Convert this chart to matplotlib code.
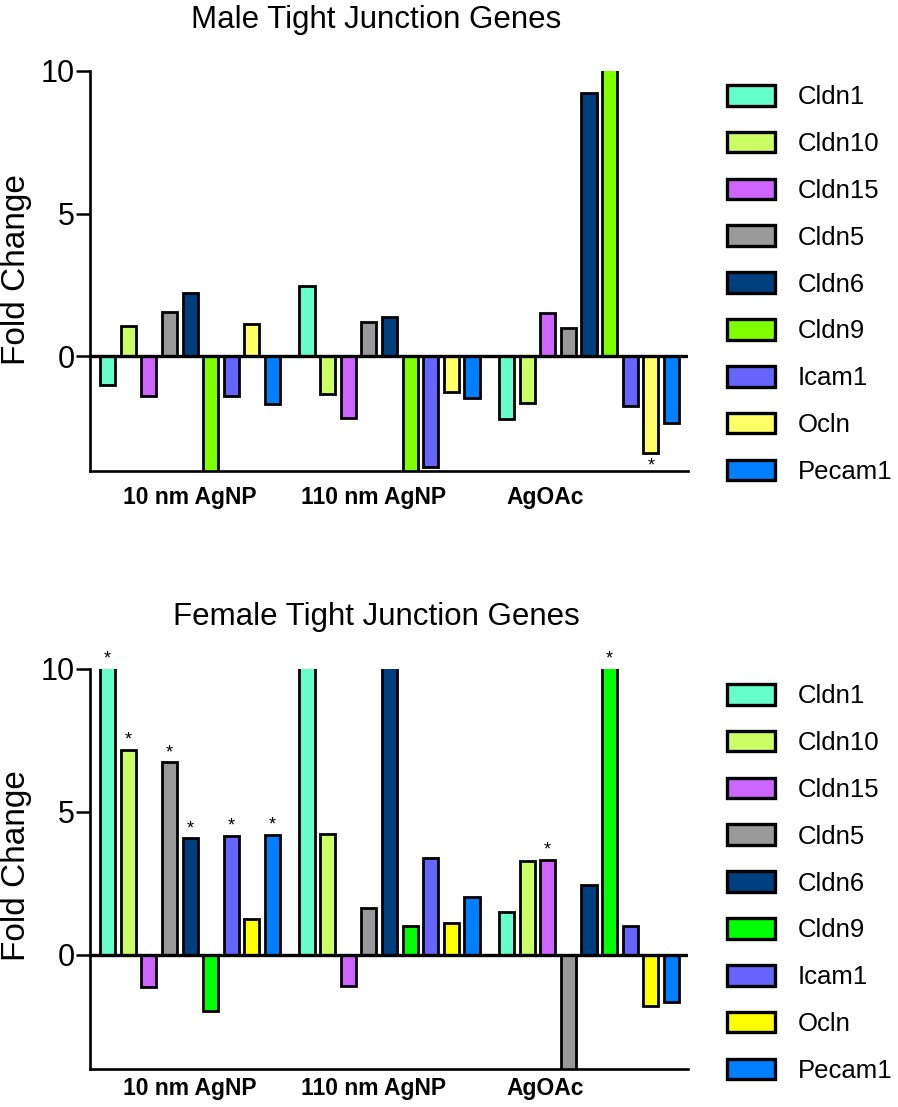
import matplotlib
matplotlib.use("Agg")
import matplotlib.pyplot as plt
from matplotlib.transforms import blended_transform_factory
import numpy as np

plt.rcParams["font.family"] = ["Liberation Sans", "DejaVu Sans"]

GENES = ["Cldn1", "Cldn10", "Cldn15", "Cldn5", "Cldn6", "Cldn9", "Icam1", "Ocln", "Pecam1"]
GROUPS = ["10 nm AgNP", "110 nm AgNP", "AgOAc"]

MALE_COLORS = ["#66FFCC", "#CCFF66", "#CC66FF", "#999999", "#003F7F",
               "#80FF00", "#6666FF", "#FFFF66", "#0080FF"]
FEMALE_COLORS = ["#66FFCC", "#CCFF66", "#CC66FF", "#999999", "#003F7F",
                 "#00FF00", "#6666FF", "#FFFF00", "#0080FF"]

# fold change per gene, one list per treatment group (values beyond axis are clipped)
male_10nm = [-1.0, 1.05, -1.37, 1.55, 2.22, -6.0, -1.37, 1.12, -1.68]
male_110nm = [2.46, -1.31, -2.15, 1.2, 1.38, -6.0, -3.88, -1.25, -1.46]
male_agoac = [-2.18, -1.62, 1.53, 1.0, 9.21, 12.0, -1.72, -3.38, -2.34]
male_sig = [
    [],
    [],
    ["Ocln"],
]

female_10nm = [12.0, 7.16, -1.13, 6.73, 4.07, -1.98, 4.16, 1.26, 4.18]
female_110nm = [12.0, 4.24, -1.08, 1.65, 12.0, 0.99, 3.4, 1.11, 2.02]
female_agoac = [1.49, 3.28, 3.33, -6.0, 2.43, 12.0, 1.0, -1.78, -1.64]
female_sig = [
    ["Cldn1", "Cldn10", "Cldn5", "Cldn6", "Icam1", "Pecam1"],
    [],
    ["Cldn15", "Cldn9"],
]

YMIN, YMAX = -4, 10
GROUP_STEP = 9.67
BAR_W = 0.73
LABEL_SHIFT = [0.0, -0.77, -2.1]


def draw_panel(ax, groups_vals, colors, sig, label_drop):
    n = len(GENES)
    handles = []
    for g, vals in enumerate(groups_vals):
        for i, v in enumerate(vals):
            x = g * GROUP_STEP + i
            b = ax.bar(x, v, width=BAR_W, color=colors[i], edgecolor="black",
                       linewidth=2.0, zorder=2)
            if g == 0:
                handles.append(b[0])
            if GENES[i] in sig[g]:
                vis = min(max(v, YMIN), YMAX)
                if v >= 0:
                    ax.annotate("*", (x, vis), xytext=(0, 1), textcoords="offset points",
                                ha="center", va="bottom", fontsize=13, annotation_clip=False)
                else:
                    ax.annotate("*", (x, vis), xytext=(0, -3), textcoords="offset points",
                                ha="center", va="top", fontsize=13, annotation_clip=False)
    ax.axhline(0, color="black", lw=2.4, zorder=3)
    ax.set_xlim(-0.85, 2 * GROUP_STEP + n - 1 + 0.8)
    ax.set_ylim(YMIN, YMAX)
    ax.set_yticks([0, 5, 10])
    ax.tick_params(axis="y", labelsize=22, length=10, width=1.8, direction="out", pad=1)
    ax.set_xticks([])
    for s in ["top", "right"]:
        ax.spines[s].set_visible(False)
    for s in ["left", "bottom"]:
        ax.spines[s].set_linewidth(1.9)
    ax.spines["bottom"].set_zorder(4)
    tr = blended_transform_factory(ax.transData, ax.transAxes)
    for g, name in enumerate(GROUPS):
        cx = g * GROUP_STEP + (n - 1) / 2 + LABEL_SHIFT[g]
        ax.text(cx, -label_drop, name, transform=tr, ha="center", va="center",
                fontsize=16.5, fontweight="bold")
    return handles


W, H = 898, 1107
fig = plt.figure(figsize=(W / 100, H / 100), dpi=100)

ax1 = fig.add_axes([90 / W, 1 - 470.7 / H, 598 / W, 400 / H])
ax2 = fig.add_axes([90 / W, 1 - 1069 / H, 598 / W, 400 / H])

h1 = draw_panel(ax1, [male_10nm, male_110nm, male_agoac], MALE_COLORS, male_sig, 0.067)
h2 = draw_panel(ax2, [female_10nm, female_110nm, female_agoac], FEMALE_COLORS, female_sig, 0.048)

fig.text(376 / W, 1 - 20 / H, "Male Tight Junction Genes", ha="center", va="center", fontsize=22.5)
fig.text(376 / W, 1 - 617 / H, "Female Tight Junction Genes", ha="center", va="center", fontsize=22.5)
fig.text(17 / W, 1 - 270 / H, "Fold Change", rotation=90, ha="center", va="center", fontsize=24)
fig.text(17 / W, 1 - 866 / H, "Fold Change", rotation=90, ha="center", va="center", fontsize=24)

for ax, handles, top in [(ax1, h1, 85), (ax2, h2, 684)]:
    leg = ax.legend(handles, GENES, loc="upper left",
                    bbox_to_anchor=(727 / W, 1 - top / H), bbox_transform=fig.transFigure,
                    frameon=False, borderpad=0, borderaxespad=0, fontsize=18.5,
                    handlelength=1.88, handleheight=0.86, labelspacing=0.88,
                    handletextpad=0.86)
    for p in leg.get_patches():
        p.set_linewidth(2.4)

fig.savefig("out.png", dpi=100)
